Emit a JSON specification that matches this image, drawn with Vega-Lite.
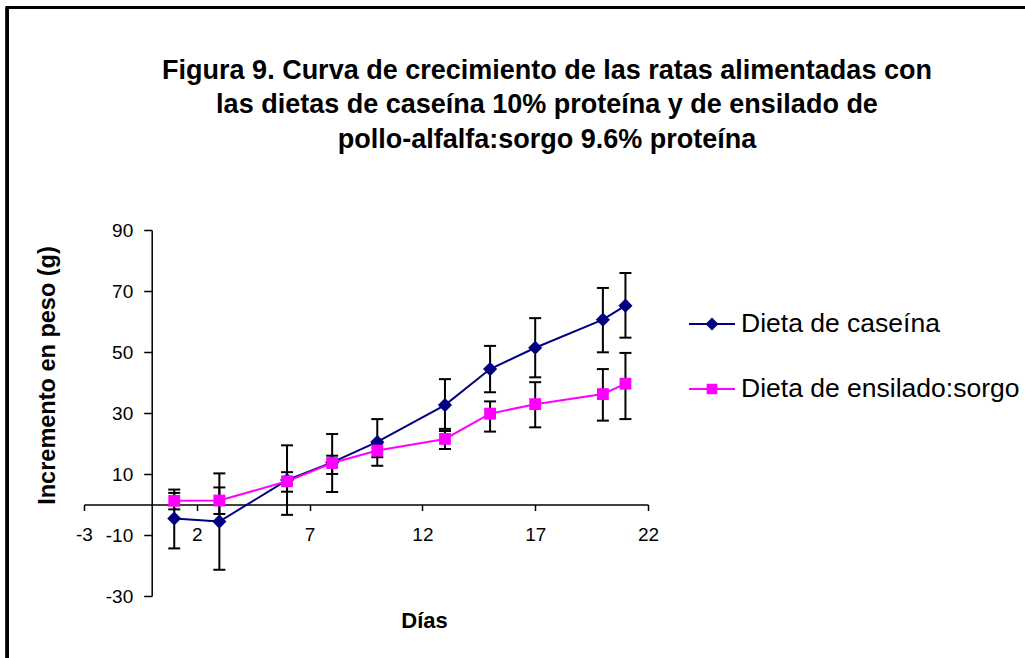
{
  "$schema": "https://vega.github.io/schema/vega-lite/v6.json",
  "autosize": {"type": "none"},
  "width": 564,
  "height": 366,
  "padding": {"left": 84, "top": 230, "right": 377, "bottom": 62},
  "background": "white",
  "title": {
    "text": ["Figura 9. Curva de crecimiento de las ratas alimentadas con", "las dietas de caseína 10% proteína y de ensilado de", "pollo-alfalfa:sorgo 9.6% proteína"],
    "font": "Liberation Sans",
    "fontSize": 27,
    "fontWeight": "bold",
    "color": "black",
    "lineHeight": 34.5,
    "anchor": "middle",
    "frame": "group",
    "dx": 181,
    "offset": -147
  },
  "data": {
    "values": [
      {"dia": 1, "serie": "Dieta de caseína", "peso": -4.6, "lo": -14.4, "hi": 4.9},
      {"dia": 3, "serie": "Dieta de caseína", "peso": -5.6, "lo": -21.4, "hi": 10.2},
      {"dia": 6, "serie": "Dieta de caseína", "peso": 8.0, "lo": -3.4, "hi": 19.4},
      {"dia": 8, "serie": "Dieta de caseína", "peso": 13.8, "lo": 4.1, "hi": 23.1},
      {"dia": 10, "serie": "Dieta de caseína", "peso": 20.5, "lo": 12.7, "hi": 28.0},
      {"dia": 13, "serie": "Dieta de caseína", "peso": 32.6, "lo": 24.1, "hi": 41.1},
      {"dia": 15, "serie": "Dieta de caseína", "peso": 44.4, "lo": 36.8, "hi": 52.0},
      {"dia": 17, "serie": "Dieta de caseína", "peso": 51.4, "lo": 41.7, "hi": 61.1},
      {"dia": 20, "serie": "Dieta de caseína", "peso": 60.6, "lo": 49.9, "hi": 71.0},
      {"dia": 21, "serie": "Dieta de caseína", "peso": 65.2, "lo": 54.7, "hi": 75.9},
      {"dia": 1, "serie": "Dieta de ensilado:sorgo", "peso": 1.2, "lo": -1.6, "hi": 3.8},
      {"dia": 3, "serie": "Dieta de ensilado:sorgo", "peso": 1.3, "lo": -3.1, "hi": 5.6},
      {"dia": 6, "serie": "Dieta de ensilado:sorgo", "peso": 7.6, "lo": 4.2, "hi": 10.6},
      {"dia": 8, "serie": "Dieta de ensilado:sorgo", "peso": 13.6, "lo": 10.0, "hi": 16.0},
      {"dia": 10, "serie": "Dieta de ensilado:sorgo", "peso": 17.7, "lo": 15.5, "hi": 20.0},
      {"dia": 13, "serie": "Dieta de ensilado:sorgo", "peso": 21.5, "lo": 18.2, "hi": 24.8},
      {"dia": 15, "serie": "Dieta de ensilado:sorgo", "peso": 29.8, "lo": 23.9, "hi": 33.8},
      {"dia": 17, "serie": "Dieta de ensilado:sorgo", "peso": 32.9, "lo": 25.3, "hi": 40.1},
      {"dia": 20, "serie": "Dieta de ensilado:sorgo", "peso": 36.2, "lo": 27.5, "hi": 44.4},
      {"dia": 21, "serie": "Dieta de ensilado:sorgo", "peso": 39.6, "lo": 28.0, "hi": 49.7}
    ]
  },
  "layer": [
    {
      "mark": {"type": "rect", "fill": null, "fillOpacity": 0, "stroke": "black", "strokeWidth": 2.3, "clip": false},
      "encoding": {
        "x": {"datum": -6.41, "type": "quantitative", "scale": {"domain": [-3, 22]}},
        "x2": {"datum": 45},
        "y": {"datum": 162.9, "type": "quantitative", "scale": {"domain": [-30, 90]}},
        "y2": {"datum": -60}
      }
    },
    {
      "mark": {"type": "line", "strokeWidth": 2},
      "encoding": {
        "x": {
          "field": "dia", "type": "quantitative",
          "scale": {"domain": [-3, 22], "nice": false, "zero": false},
          "axis": {
            "values": [-3, 2, 7, 12, 17, 22],
            "labelExpr": "'' + datum.value",
            "offset": -91.5,
            "grid": false,
            "domainColor": "black",
            "domainWidth": 1.5,
            "tickColor": "black",
            "tickWidth": 1.5,
            "tickSize": 6,
            "labelFont": "Liberation Sans",
            "labelFontSize": 19,
            "labelColor": "black",
            "labelPadding": 15,
            "labelFlush": false,
            "title": "Días",
            "titleFont": "Liberation Sans",
            "titleFontSize": 22,
            "titleFontWeight": "bold",
            "titleColor": "black",
            "titleX": 340,
            "titleY": 115.5,
            "titleBaseline": "middle",
            "titleAlign": "center"
          }
        },
        "y": {
          "field": "peso", "type": "quantitative",
          "scale": {"domain": [-30, 90], "nice": false, "zero": false},
          "axis": {
            "values": [-30, -10, 10, 30, 50, 70, 90],
            "labelExpr": "'' + datum.value",
            "offset": -67.7,
            "grid": false,
            "domainColor": "black",
            "domainWidth": 1.5,
            "tickColor": "black",
            "tickWidth": 1.5,
            "tickSize": 8,
            "labelFont": "Liberation Sans",
            "labelFontSize": 19,
            "labelColor": "black",
            "labelPadding": 11,
            "labelFlush": false,
            "title": "Incremento en peso (g)",
            "titleFont": "Liberation Sans",
            "titleFontSize": 23.5,
            "titleFontWeight": "bold",
            "titleColor": "black",
            "titleX": -104.7,
            "titleY": 145,
            "titleBaseline": "middle",
            "titleAlign": "center",
            "titleAngle": 270
          }
        },
        "color": {
          "field": "serie", "type": "nominal",
          "scale": {"domain": ["Dieta de caseína", "Dieta de ensilado:sorgo"], "range": ["#000080", "#FF00FF"]},
          "legend": {
            "title": null,
            "orient": "none",
            "legendX": 604,
            "legendY": 70,
            "padding": 0,
            "rowPadding": 27,
            "labelFont": "Liberation Sans",
            "labelFontSize": 26.5,
            "labelColor": "black",
            "labelOffset": 5,
            "labelLimit": 0,
            "symbolSize": 2116,
            "encode": {
              "symbols": {
                "update": {
                  "shape": {"signal": "datum.value === 'Dieta de caseína' ? 'M-1,0H1M0,-0.22L0.22,0L0,0.22L-0.22,0Z' : 'M-1,0H1M-0.19,-0.19H0.19V0.19H-0.19Z'"},
                  "stroke": {"scale": "color", "field": "value"},
                  "fill": {"scale": "color", "field": "value"},
                  "strokeWidth": {"value": 2},
                  "size": {"value": 2116},
                  "opacity": {"value": 1}
                }
              }
            }
          }
        }
      }
    },
    {
      "mark": {"type": "rule", "color": "black", "strokeWidth": 2},
      "encoding": {
        "x": {"field": "dia", "type": "quantitative", "scale": {"domain": [-3, 22]}},
        "y": {"field": "lo", "type": "quantitative", "scale": {"domain": [-30, 90]}},
        "y2": {"field": "hi"}
      }
    },
    {
      "mark": {"type": "tick", "orient": "horizontal", "color": "black", "size": 12, "thickness": 2, "opacity": 1},
      "encoding": {
        "x": {"field": "dia", "type": "quantitative", "scale": {"domain": [-3, 22]}},
        "y": {"field": "lo", "type": "quantitative", "scale": {"domain": [-30, 90]}}
      }
    },
    {
      "mark": {"type": "tick", "orient": "horizontal", "color": "black", "size": 12, "thickness": 2, "opacity": 1},
      "encoding": {
        "x": {"field": "dia", "type": "quantitative", "scale": {"domain": [-3, 22]}},
        "y": {"field": "hi", "type": "quantitative", "scale": {"domain": [-30, 90]}}
      }
    },
    {
      "mark": {"type": "point", "filled": true, "opacity": 1},
      "encoding": {
        "x": {"field": "dia", "type": "quantitative", "scale": {"domain": [-3, 22]}},
        "y": {"field": "peso", "type": "quantitative", "scale": {"domain": [-30, 90]}},
        "shape": {
          "condition": {"test": "datum.serie === 'Dieta de caseína'", "value": "diamond"},
          "value": "square"
        },
        "size": {
          "condition": {"test": "datum.serie === 'Dieta de caseína'", "value": 200},
          "value": 140
        },
        "color": {
          "field": "serie", "type": "nominal",
          "scale": {"domain": ["Dieta de caseína", "Dieta de ensilado:sorgo"], "range": ["#000080", "#FF00FF"]},
          "legend": null
        }
      }
    }
  ],
  "config": {
    "view": {"stroke": null},
    "font": "Liberation Sans"
  }
}
